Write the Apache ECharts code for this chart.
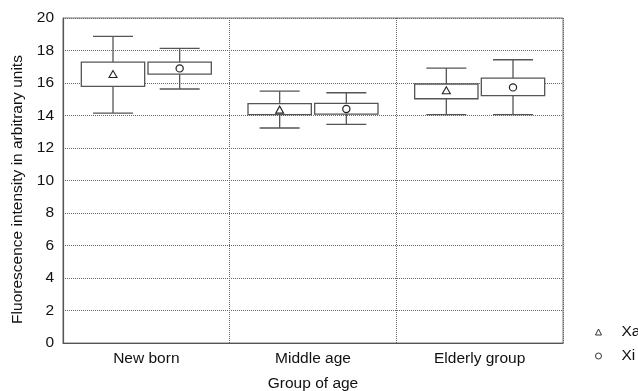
<!DOCTYPE html>
<html>
<head>
<meta charset="utf-8">
<script src="https://cdn.jsdelivr.net/npm/echarts@6/dist/echarts.min.js"></script>
<style>
html,body{margin:0;padding:0;background:#fff;}
#chart{width:638px;height:391px;}
</style>
</head>
<body>
<div id="chart"></div>
<script>
var categories = ['New born', 'Middle age', 'Elderly group'];
var yTicks = [0, 2, 4, 6, 8, 10, 12, 14, 16, 18, 20];

var xaMin  = [14.15, 13.23, 14.05];
var xaQ1   = [15.79, 14.05, 15.03];
var xaQ3   = [17.29, 14.73, 15.94];
var xaMax  = [18.87, 15.50, 16.92];
var xaMean = [16.52, 14.33, 15.52];

var xiMin  = [15.63, 13.45, 14.05];
var xiQ1   = [16.55, 14.09, 15.22];
var xiQ3   = [17.29, 14.75, 16.30];
var xiMax  = [18.13, 15.40, 17.43];
var xiMean = [16.90, 14.40, 15.73];

function build(mn, q1, q3, mx, mean) {
  return categories.map(function (c, i) { return [i, mn[i], q1[i], q3[i], mx[i], mean[i]]; });
}

var LINE = '#555';
function makeRender(side, marker) {
  return function (params, api) {
    var idx = api.value(0);
    var bandW = api.size([1, 0])[0];
    var cx = api.coord([idx, 0])[0] + side * 0.2 * bandW;
    var boxW = 0.38 * bandW, capW = 0.24 * bandW;
    var yMin = api.coord([idx, api.value(1)])[1];
    var yQ1 = api.coord([idx, api.value(2)])[1];
    var yQ3 = api.coord([idx, api.value(3)])[1];
    var yMax = api.coord([idx, api.value(4)])[1];
    var yMean = api.coord([idx, api.value(5)])[1];
    var ls = {stroke: LINE, lineWidth: 1.3, fill: null};
    var children = [
      {type: 'line', shape: {x1: cx, y1: yMax, x2: cx, y2: yQ3}, style: ls},
      {type: 'line', shape: {x1: cx, y1: yQ1, x2: cx, y2: yMin}, style: ls},
      {type: 'line', shape: {x1: cx - capW / 2, y1: yMax, x2: cx + capW / 2, y2: yMax}, style: ls},
      {type: 'line', shape: {x1: cx - capW / 2, y1: yMin, x2: cx + capW / 2, y2: yMin}, style: ls},
      {type: 'rect', shape: {x: cx - boxW / 2, y: yQ3, width: boxW, height: yQ1 - yQ3},
        style: {stroke: LINE, lineWidth: 1.3, fill: '#fff'}}
    ];
    if (marker === 'triangle') {
      children.push({type: 'polygon', shape: {points: [[cx, yMean - 4], [cx - 4, yMean + 3], [cx + 4, yMean + 3]]},
        style: {stroke: '#222', lineWidth: 1.1, fill: null}});
    } else {
      children.push({type: 'circle', shape: {cx: cx, cy: yMean, r: 3.6},
        style: {stroke: '#222', lineWidth: 1.2, fill: null}});
    }
    return {type: 'group', children: children};
  };
}

var chart = echarts.init(document.getElementById('chart'), null, {renderer: 'canvas'});
var FONT = 'Liberation Sans, Arial, sans-serif';
var FS = 15.5, TC = '#111';
chart.setOption({
  animation: false,
  backgroundColor: '#fff',
  textStyle: {fontFamily: FONT},
  grid: {left: 63, right: 75, top: 18, bottom: 48, show: true, borderColor: '#777', borderWidth: 1,
    containLabel: false, outerBoundsMode: 'none'},
  legend: {
    orient: 'vertical', left: 590, top: 319, itemGap: 8, itemWidth: 6, itemHeight: 6,
    textStyle: {fontSize: FS, color: TC, fontFamily: FONT, padding: [0, 0, 0, 15]},
    data: [
      {name: 'Xa', icon: 'triangle', itemStyle: {color: '#fff', borderColor: '#333', borderWidth: 1}},
      {name: 'Xi', icon: 'circle', itemStyle: {color: '#fff', borderColor: '#333', borderWidth: 1}}
    ]
  },
  xAxis: {
    type: 'category', data: categories, boundaryGap: true,
    name: 'Group of age', nameLocation: 'middle', nameGap: 33,
    nameTextStyle: {fontSize: FS, color: TC, fontFamily: FONT},
    axisLine: {lineStyle: {color: '#555', width: 1.2}},
    axisTick: {show: false},
    axisLabel: {fontSize: FS, color: TC, margin: 8, fontFamily: FONT},
    splitLine: {show: true, lineStyle: {color: '#666', type: [1, 1], width: 1}}
  },
  yAxis: {
    type: 'value', min: 0, max: 20, interval: 2,
    name: 'Fluorescence intensity in arbitrary units', nameLocation: 'middle', nameGap: 36,
    nameTextStyle: {fontSize: FS, color: TC, fontFamily: FONT, padding: [0, 18, 0, 0]},
    axisLine: {show: true, lineStyle: {color: '#555', width: 1.2}},
    axisTick: {show: false},
    axisLabel: {fontSize: FS, color: TC, margin: 9, fontFamily: FONT,
      formatter: function (v) { return yTicks.indexOf(v) >= 0 ? String(v) : ''; }},
    splitLine: {show: true, lineStyle: {color: '#666', type: [1, 1], width: 1}}
  },
  series: [
    {name: 'Xa', type: 'custom', renderItem: makeRender(-1, 'triangle'), data: build(xaMin, xaQ1, xaQ3, xaMax, xaMean),
      encode: {x: 0, y: [1, 2, 3, 4, 5]}, itemStyle: {color: '#fff', borderColor: '#333'}},
    {name: 'Xi', type: 'custom', renderItem: makeRender(1, 'circle'), data: build(xiMin, xiQ1, xiQ3, xiMax, xiMean),
      encode: {x: 0, y: [1, 2, 3, 4, 5]}, itemStyle: {color: '#fff', borderColor: '#333'}}
  ]
});
</script>
</body>
</html>
